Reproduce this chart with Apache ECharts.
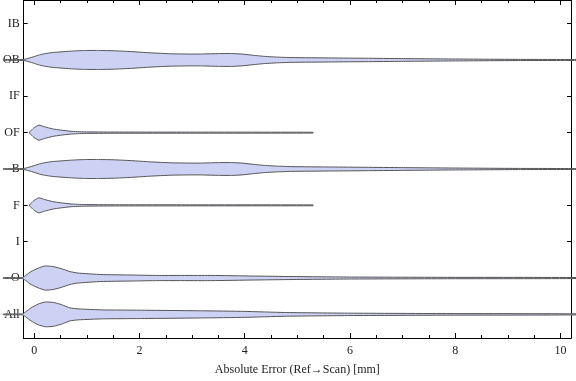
<!DOCTYPE html>
<html>
<head>
<meta charset="utf-8">
<script src="https://cdn.jsdelivr.net/npm/echarts@6/dist/echarts.min.js"></script>
<style>html,body{margin:0;padding:0;background:#fff}#c{width:576px;height:381px}</style>
</head>
<body>
<div id="c"></div>
<script>
// Categories, bottom (index 0) to top
var categories = ['All', 'O', 'I', 'F', 'B', 'OF', 'IF', 'OB', 'IB'];
var xTicks = [0, 2, 4, 6, 8, 10];
var xMinorTicks = [0.5, 1, 1.5, 2.5, 3, 3.5, 4.5, 5, 5.5, 6.5, 7, 7.5, 8.5, 9, 9.5];
var xTitle = 'Absolute Error (Ref\u2192Scan) [mm]';

// Violin profiles: error value (mm) and half-width density (in category units)
var obX = [-0.59, -0.2, -0.1, 0.0, 0.1, 0.2, 0.35, 0.55, 0.75, 0.96, 1.2, 1.5, 1.85, 2.2, 2.6, 3.0, 3.2, 3.5, 3.75, 3.95, 4.14, 4.35, 4.6, 4.9, 5.65, 6.3, 6.98, 7.9, 9.2, 10.3];
var obW = [0.008, 0.014, 0.05, 0.093, 0.14, 0.172, 0.205, 0.227, 0.248, 0.26, 0.262, 0.254, 0.23, 0.197, 0.17, 0.162, 0.164, 0.175, 0.177, 0.162, 0.132, 0.102, 0.08, 0.065, 0.055, 0.047, 0.038, 0.027, 0.016, 0.011];

var bX = [-0.59, -0.2, -0.1, 0.0, 0.1, 0.2, 0.35, 0.55, 0.75, 0.96, 1.2, 1.5, 1.85, 2.2, 2.6, 3.0, 3.2, 3.5, 3.75, 3.95, 4.14, 4.35, 4.6, 4.9, 5.65, 6.3, 6.98, 7.9, 9.2, 10.3];
var bW = [0.008, 0.014, 0.05, 0.093, 0.14, 0.172, 0.205, 0.227, 0.248, 0.26, 0.262, 0.254, 0.23, 0.197, 0.17, 0.162, 0.164, 0.175, 0.177, 0.162, 0.132, 0.102, 0.08, 0.065, 0.055, 0.047, 0.038, 0.027, 0.016, 0.011];

var ofX = [-0.1, -0.05, 0.0, 0.09, 0.2, 0.35, 0.5, 0.7, 0.95, 1.5, 3.0, 5.3];
var ofW = [0.0, 0.068, 0.137, 0.208, 0.159, 0.104, 0.071, 0.038, 0.022, 0.016, 0.014, 0.011];

var fX = [-0.1, -0.05, 0.0, 0.09, 0.2, 0.35, 0.5, 0.7, 0.95, 1.5, 3.0, 5.3];
var fW = [0.0, 0.068, 0.137, 0.208, 0.159, 0.104, 0.071, 0.038, 0.022, 0.016, 0.014, 0.011];

var oX = [-0.59, -0.22, -0.15, -0.06, 0.08, 0.21, 0.36, 0.51, 0.68, 0.83, 1.27, 1.87, 2.34, 3.38, 4.14, 4.9, 6.03, 7.92, 10.3];
var oW = [0.011, 0.014, 0.082, 0.178, 0.274, 0.334, 0.315, 0.26, 0.178, 0.137, 0.096, 0.082, 0.071, 0.071, 0.055, 0.041, 0.027, 0.019, 0.014];

var allX = [-0.59, -0.22, -0.15, -0.06, 0.08, 0.22, 0.37, 0.52, 0.68, 0.85, 1.3, 2.0, 3.2, 4.0, 4.75, 6.0, 7.9, 10.3];
var allW = [0.011, 0.014, 0.082, 0.178, 0.287, 0.342, 0.328, 0.268, 0.178, 0.150, 0.123, 0.115, 0.098, 0.082, 0.052, 0.033, 0.022, 0.014];

var violins = [
  {cat: 'OB', x: obX, w: obW},
  {cat: 'OF', x: ofX, w: ofW},
  {cat: 'B', x: bX, w: bW},
  {cat: 'F', x: fX, w: fW},
  {cat: 'O', x: oX, w: oW},
  {cat: 'All', x: allX, w: allW}
];

var chart = echarts.init(document.getElementById('c'), null, {renderer: 'canvas'});
var yIdx = categories.map(function (c, i) { return i; });
var font = {fontFamily: 'Liberation Serif', fontSize: 12, color: '#222'};
var lineStyle = {color: '#000', width: 1};

function xAxisBase(pos, major, withLabel) {
  return {
    type: 'value', position: pos, min: -0.2, max: 10.2,
    axisLine: {show: true, onZero: false, lineStyle: lineStyle},
    axisTick: {show: true, inside: true, length: major ? 5 : 3, customValues: major ? xTicks : xMinorTicks, lineStyle: lineStyle},
    axisLabel: withLabel ? Object.assign({show: true, margin: 7, customValues: xTicks}, font) : {show: false},
    splitLine: {show: false}
  };
}

var bottomMajor = xAxisBase('bottom', true, true);
bottomMajor.name = xTitle;
bottomMajor.nameLocation = 'middle';
bottomMajor.nameGap = 26;
bottomMajor.nameTextStyle = font;

function yAxisBase(pos, withLabel) {
  return {
    type: 'value', position: pos, min: -0.65, max: 8.65,
    axisLine: {show: true, onZero: false, lineStyle: lineStyle},
    axisTick: {show: true, inside: true, length: 4, customValues: yIdx, lineStyle: lineStyle},
    axisLabel: withLabel ? Object.assign({show: true, margin: 4, customValues: yIdx,
      formatter: function (v) { return categories[Math.round(v)]; }}, font) : {show: false},
    splitLine: {show: false}
  };
}

chart.setOption({
  animation: false,
  grid: {left: 20, right: 5, top: 0, bottom: 40, containLabel: false},
  xAxis: [bottomMajor, xAxisBase('bottom', false, false), xAxisBase('top', true, false), xAxisBase('top', false, false)],
  yAxis: [yAxisBase('left', true), yAxisBase('right', false)],
  series: [{
    type: 'custom',
    xAxisIndex: 0, yAxisIndex: 0,
    clip: false,
    z: 1,
    data: violins.map(function (v) { return [v.x[0], categories.indexOf(v.cat)]; }),
    encode: {x: 0, y: 1},
    renderItem: function (params, api) {
      var v = violins[params.dataIndex];
      var c = categories.indexOf(v.cat);
      var pts = [];
      for (var i = 0; i < v.x.length; i++) pts.push(api.coord([v.x[i], c + v.w[i]]));
      for (var j = v.x.length - 1; j >= 0; j--) pts.push(api.coord([v.x[j], c - v.w[j]]));
      return {
        type: 'polygon',
        shape: {points: pts, smooth: 0.15},
        style: {fill: '#cdd1f3', stroke: '#555', lineWidth: 1}
      };
    }
  }]
});
</script>
</body>
</html>
